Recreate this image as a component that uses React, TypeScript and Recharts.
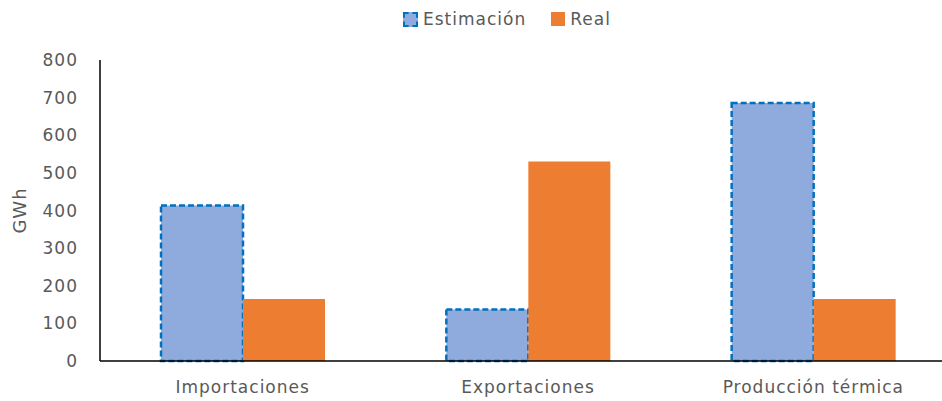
import React, { FunctionComponent, ReactElement } from 'react';

import { BarChart, Bar, XAxis, YAxis } from 'recharts';

const categories: Array<string> = ['Importaciones', 'Exportaciones', 'Producción térmica'];
const estimacion: Array<number> = [413, 137, 686];
const real: Array<number> = [165, 530, 165];
const yTicks: Array<number> = [0, 100, 200, 300, 400, 500, 600, 700, 800];

const FONT = '"DejaVu Sans", sans-serif';
const TEXT_COLOR = '#595959';
const textStyle = { fontFamily: FONT, fontSize: 17, fill: TEXT_COLOR, letterSpacing: 1 };

/**
 * Legend with a dashed swatch for the estimate series
 */
const ChartLegend: FunctionComponent = (): ReactElement => {
  return (
    <div
      style={{
        position: 'absolute',
        left: 403,
        top: 9,
        display: 'flex',
        alignItems: 'center',
        fontFamily: FONT,
        fontSize: '17px',
        letterSpacing: '1px',
        color: TEXT_COLOR,
      }}
    >
      <span
        style={{
          display: 'inline-block',
          width: '11px',
          height: '11px',
          backgroundColor: '#8FAADC',
          border: '2px dashed #0070C0',
          marginRight: '5px',
        }}
      />
      <span style={{ marginRight: '25px' }}>Estimación</span>
      <span style={{ display: 'inline-block', width: '14px', height: '14px', backgroundColor: '#ED7D31', marginRight: '5px' }} />
      <span>Real</span>
    </div>
  );
};

/**
 * Estimate vs real bar chart
 */
const App: FunctionComponent = (): ReactElement => {
  // Transform data into chart-compatible format
  const data: Array<any> = categories.map((name: string, i: number) => ({
    name,
    estimacion: estimacion[i],
    real: real[i],
  }));

  // Render
  return (
    <div style={{ position: 'absolute', left: 0, top: 0, width: 942, height: 401, overflow: 'hidden', background: '#FFF' }}>
      <ChartLegend />
      <BarChart
        data={data}
        width={960}
        height={401}
        margin={{ top: 60, right: 4, bottom: 0, left: 0 }}
        barSize={82}
        barGap={0}
      >
        <XAxis
          dataKey="name"
          height={40}
          axisLine={{ stroke: '#000', strokeWidth: 1.5 }}
          tickLine={false}
          tick={textStyle}
          tickMargin={14}
        />
        <YAxis
          type="number"
          domain={[0, 800]}
          ticks={yTicks}
          width={100}
          axisLine={{ stroke: '#000', strokeWidth: 1.5 }}
          tickLine={false}
          tickSize={0}
          tickMargin={22}
          tick={textStyle}
          label={{ value: 'GWh', angle: -90, position: 'center', dx: -30, ...textStyle, fontSize: 18 }}
        />
        <Bar dataKey="estimacion" name="Estimación" fill="#8FAADC" stroke="#0070C0" strokeWidth={2.5} strokeDasharray="6 3" isAnimationActive={false} />
        <Bar dataKey="real" name="Real" fill="#ED7D31" isAnimationActive={false} />
      </BarChart>
    </div>
  );
};

export default App;
